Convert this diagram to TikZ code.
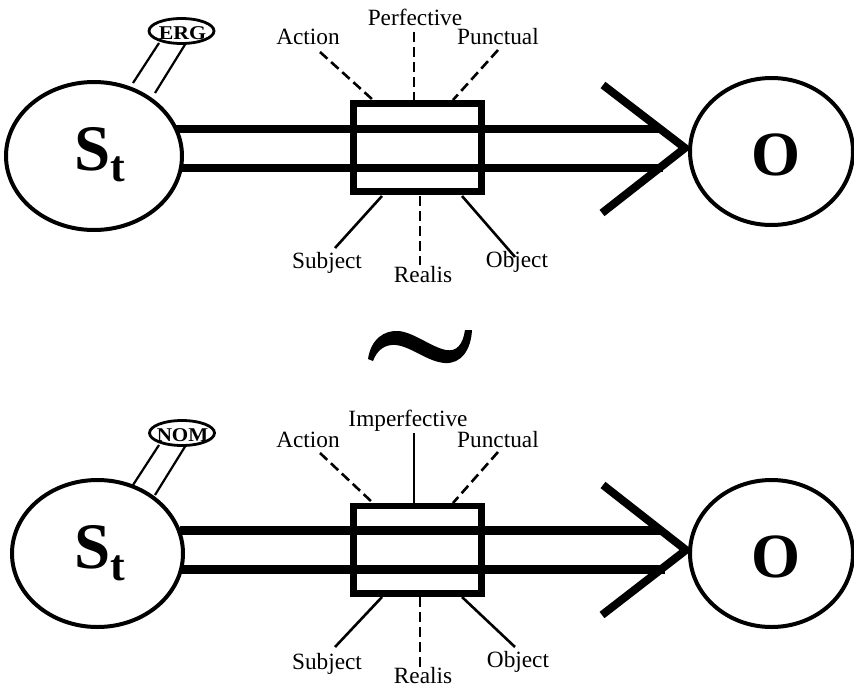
\documentclass[tikz,border=0pt]{standalone}
\usepackage{fontspec}
\setmainfont{Liberation Serif}
\usetikzlibrary{shapes.geometric}
\begin{document}
\begin{tikzpicture}[x=1pt,y=-1pt,
  bigell/.style={draw, ellipse, line width=4pt, inner sep=0pt},
  tagell/.style={draw, ellipse, line width=2.8pt, inner sep=0pt, minimum width=65pt, minimum height=25pt},
  tagtxt/.style={font=\fontsize{19.5}{20}\selectfont\bfseries, inner sep=0pt, anchor=base},
  sttxt/.style={font=\fontsize{65}{65}\selectfont\bfseries, inner sep=0pt, anchor=base},
  otxt/.style={font=\fontsize{63}{63}\selectfont\bfseries, inner sep=0pt, anchor=base},
  lbl/.style={font=\fontsize{23.3}{24}\selectfont, inner sep=0pt, anchor=base},
  rail/.style={line width=8.5pt},
  head/.style={line width=8pt, line join=miter},
  frame/.style={draw, line width=6.5pt, inner sep=0pt},
  tie/.style={line width=2.2pt},
  dashln/.style={line width=2.6pt, dash pattern=on 10pt off 5pt},
  solidln/.style={line width=2.6pt},
]
\useasboundingbox (0,0) rectangle (854,688);

% ===== top panel =====
\node[bigell, minimum width=176pt, minimum height=148pt] (S1) at (94,156) {};
\node[sttxt] (S1t) at (100,170) {S\raisebox{-11pt}{\fontsize{44}{44}\selectfont t}};
\node[bigell, minimum width=163pt, minimum height=147pt] (O1) at (771.5,151.5) {};
\node[otxt] (O1t) at (775.5,175) {O};
\node[tagell] (E1) at (181.5,31) {};
\node[tagtxt] (E1t) at (182.5,39.5) {\scalebox{1.12}[1]{ERG}};
\coordinate (t1a) at (159,43); \coordinate (t1b) at (133,83);
\coordinate (t1c) at (186,43); \coordinate (t1d) at (155,93);
\draw[tie] (t1a) -- (t1b);
\draw[tie] (t1c) -- (t1d);
\coordinate (r1a) at (176,129); \coordinate (r1b) at (660,129);
\coordinate (r1c) at (181,168); \coordinate (r1d) at (663,168);
\draw[rail] (r1a) -- (r1b);
\draw[rail] (r1c) -- (r1d);
\coordinate (h1a) at (603,85); \coordinate (h1tip) at (685,148); \coordinate (h1b) at (602,213);
\draw[head] (h1a) -- (h1tip) -- (h1b);
\node[frame, minimum width=128.3pt, minimum height=88.3pt] (B1) at (417.5,147.5) {};
\node[lbl] (L1a) at (308,44) {Action};
\node[lbl] (L1p) at (415,25) {Perfective};
\node[lbl] (L1u) at (498,44) {Punctual};
\node[lbl] (L1s) at (327,268) {Subject};
\node[lbl] (L1r) at (423,282) {Realis};
\node[lbl] (L1o) at (517,267) {Object};
\coordinate (d1a) at (320,52); \coordinate (b1a) at (373,100);
\coordinate (d1p) at (414,32); \coordinate (b1p) at (414,100);
\coordinate (d1u) at (498,50); \coordinate (b1u) at (453,100);
\coordinate (d1s) at (335,248); \coordinate (b1s) at (382,196);
\coordinate (d1r) at (420,265); \coordinate (b1r) at (420,196);
\coordinate (d1o) at (515,257); \coordinate (b1o) at (462,196);
\draw[dashln] (d1a) -- (b1a);
\draw[dashln] (d1p) -- (b1p);
\draw[dashln] (d1u) -- (b1u);
\draw[solidln] (b1s) -- (d1s);
\draw[dashln] (b1r) -- (d1r);
\draw[solidln] (b1o) -- (d1o);

% ===== tilde =====
\fill (368,359) .. controls (371,339) and (384,330) .. (399,331)
  .. controls (415,333) and (431,347) .. (446,350)
  .. controls (457,352) and (463,344) .. (465,330)
  -- (472,330)
  .. controls (471,350) and (461,364) .. (445,363)
  .. controls (428,362) and (412,347) .. (396,345)
  .. controls (385,344) and (377,350) .. (373,361) -- cycle;

% ===== bottom panel =====
\node[bigell, minimum width=171pt, minimum height=147pt] (S2) at (97.5,553.5) {};
\node[sttxt] (S2t) at (100,568) {S\raisebox{-12pt}{\fontsize{44}{44}\selectfont t}};
\node[bigell, minimum width=163pt, minimum height=147pt] (O2) at (771.5,553.5) {};
\node[otxt] (O2t) at (775.5,577) {O};
\node[tagell] (E2) at (182,433) {};
\node[tagtxt] (E2t) at (182.5,441) {\scalebox{1.08}[1]{NOM}};
\coordinate (t2a) at (159,445); \coordinate (t2b) at (133,485);
\coordinate (t2c) at (186,445); \coordinate (t2d) at (155,495);
\draw[tie] (t2a) -- (t2b);
\draw[tie] (t2c) -- (t2d);
\coordinate (r2a) at (180,530.5); \coordinate (r2b) at (662,530.5);
\coordinate (r2c) at (182,569.5); \coordinate (r2d) at (665,569.5);
\draw[rail] (r2a) -- (r2b);
\draw[rail] (r2c) -- (r2d);
\coordinate (h2a) at (603,485); \coordinate (h2tip) at (686,550); \coordinate (h2b) at (602,615);
\draw[head] (h2a) -- (h2tip) -- (h2b);
\node[frame, minimum width=128.3pt, minimum height=87.3pt] (B2) at (417.5,549.7) {};
\node[lbl] (L2a) at (308,447) {Action};
\node[lbl] (L2p) at (408,426) {Imperfective};
\node[lbl] (L2u) at (498,447) {Punctual};
\node[lbl] (L2s) at (327,669) {Subject};
\node[lbl] (L2r) at (423,683) {Realis};
\node[lbl] (L2o) at (518,667) {Object};
\coordinate (d2a) at (320,453); \coordinate (b2a) at (373,503);
\coordinate (d2p) at (414,433); \coordinate (b2p) at (414,503);
\coordinate (d2u) at (498,452); \coordinate (b2u) at (453,503);
\coordinate (d2s) at (335,647); \coordinate (b2s) at (382,597);
\coordinate (d2r) at (420,667); \coordinate (b2r) at (420,597);
\coordinate (d2o) at (515,647); \coordinate (b2o) at (462,597);
\draw[dashln] (d2a) -- (b2a);
\draw[solidln] (d2p) -- (b2p);
\draw[dashln] (d2u) -- (b2u);
\draw[solidln] (b2s) -- (d2s);
\draw[dashln] (b2r) -- (d2r);
\draw[solidln] (b2o) -- (d2o);
\end{tikzpicture}
\end{document}
